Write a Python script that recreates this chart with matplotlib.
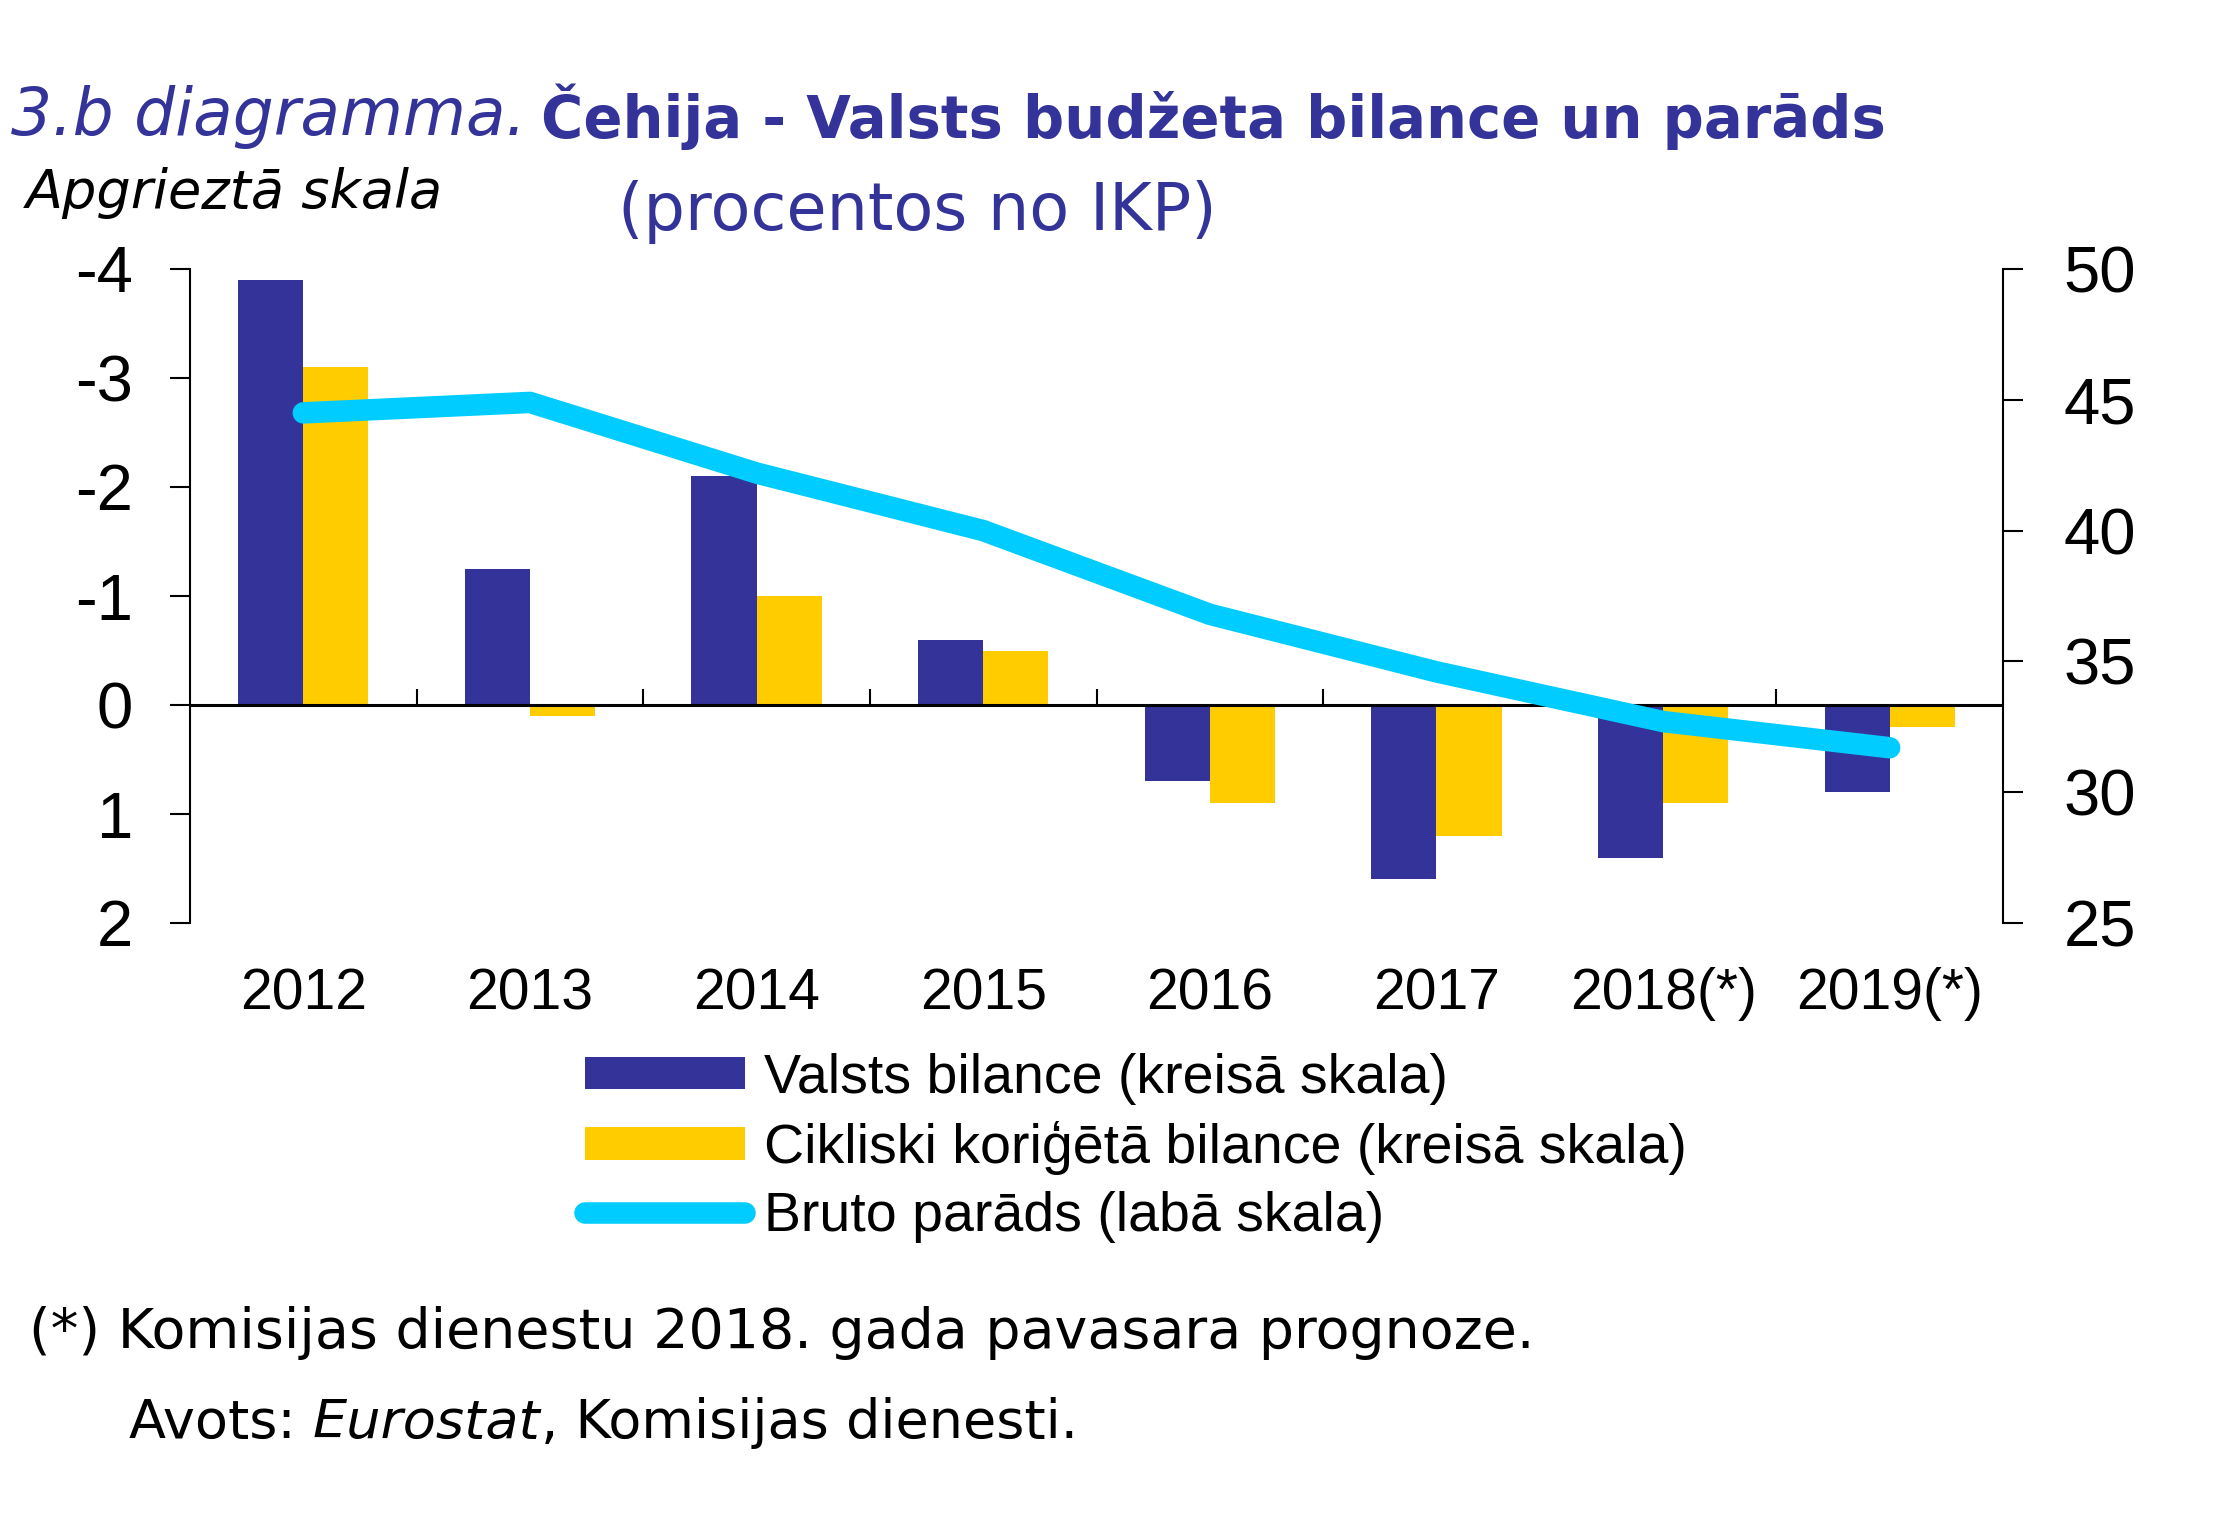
import matplotlib.pyplot as plt
import numpy as np

plt.rcParams["axes.unicode_minus"] = False
plt.rcParams["font.family"] = ["Liberation Sans", "DejaVu Sans"]

years = ["2012", "2013", "2014", "2015", "2016", "2017", "2018(*)", "2019(*)"]
# inverted left scale: negative = deficit (drawn upwards)
balance = [-3.9, -1.25, -2.1, -0.6, 0.7, 1.6, 1.4, 0.8]
cyclical = [-3.1, 0.1, -1.0, -0.5, 0.9, 1.2, 0.9, 0.2]
debt = [44.5, 44.9, 42.2, 40.0, 36.8, 34.6, 32.7, 31.7]

navy = "#333399"
yellow = "#FFCC00"
cyan = "#00CCFF"
title_font = ["DejaVu Sans"]

fig = plt.figure(figsize=(22.23, 15.16), dpi=100)
ax = fig.add_axes([190 / 2223, 1 - 923 / 1516, 1813 / 2223, 654 / 1516])

x = np.arange(len(years))
w = 0.2875
b1 = ax.bar(x - w / 2, balance, w, color=navy, label="Valsts bilance (kreisā skala)")
b2 = ax.bar(x + w / 2, cyclical, w, color=yellow,
            label="Cikliski koriģētā bilance (kreisā skala)")
ax.set_xlim(-0.5, len(years) - 0.5)
ax.set_ylim(2, -4)
ax.axhline(0, color="black", lw=2.2, zorder=3)
ax.vlines(x[:-1] + 0.5, 0, -0.15, color="black", lw=1.5, zorder=3)

for s in ["top", "bottom", "right"]:
    ax.spines[s].set_visible(False)
ax.spines["left"].set_linewidth(1.5)
ax.set_yticks(range(-4, 3))
ax.tick_params(axis="y", length=14.4, width=1.5, pad=26.6, labelsize=47)
ax.set_xticks(x, years)
ax.tick_params(axis="x", length=0, pad=32, labelsize=41)

ax2 = ax.twinx()
(ln,) = ax2.plot(x, debt, color=cyan, lw=15.5, solid_capstyle="round",
                 solid_joinstyle="round", label="Bruto parāds (labā skala)")
ax2.set_ylim(25, 50)
ax2.set_yticks(range(25, 51, 5))
for s in ["top", "bottom", "left"]:
    ax2.spines[s].set_visible(False)
ax2.spines["right"].set_linewidth(1.5)
ax2.tick_params(axis="y", length=14.4, width=1.5, pad=29, labelsize=47)

fig.legend(handles=[b1, b2, ln], loc="center left",
           bbox_to_anchor=(585 / 2223, 1 - 1148 / 1516), frameon=False,
           fontsize=40, borderpad=0, borderaxespad=0, handlelength=2.88,
           handleheight=0.52, handletextpad=0.34, labelspacing=0.29)

# titles and notes
t1 = fig.text(11 / 2223, 1 - 117 / 1516, "3.b diagramma.", style="italic",
              color=navy, fontsize=46.5, family=title_font, va="center")
ax.annotate("Čehija - Valsts budžeta bilance un parāds", xy=(1, 0.5),
            xycoords=t1, xytext=(11, 0), textcoords="offset points",
            color=navy, fontsize=41.5, fontweight="bold", family=title_font,
            va="center")
fig.text(26 / 2223, 1 - 193 / 1516, "Apgrieztā skala", style="italic",
         fontsize=39, family=title_font, va="center")
fig.text(618 / 2223, 1 - 212 / 1516, "(procentos no IKP)", color=navy,
         fontsize=47, family=title_font, va="center")
fig.text(29 / 2223, 1 - 1333 / 1516,
         "(*) Komisijas dienestu 2018. gada pavasara prognoze.",
         fontsize=40, family=title_font, va="center")
a1 = fig.text(129 / 2223, 1 - 1423 / 1516, "Avots: ", fontsize=39,
              family=title_font, va="center")
a2 = ax.annotate("Eurostat", xy=(1, 0.5), xycoords=a1, va="center",
                 fontsize=39, family=title_font, style="italic")
ax.annotate(", Komisijas dienesti.", xy=(1, 0.5), xycoords=a2, va="center",
            fontsize=39, family=title_font)

fig.savefig("out.png", dpi=100)
